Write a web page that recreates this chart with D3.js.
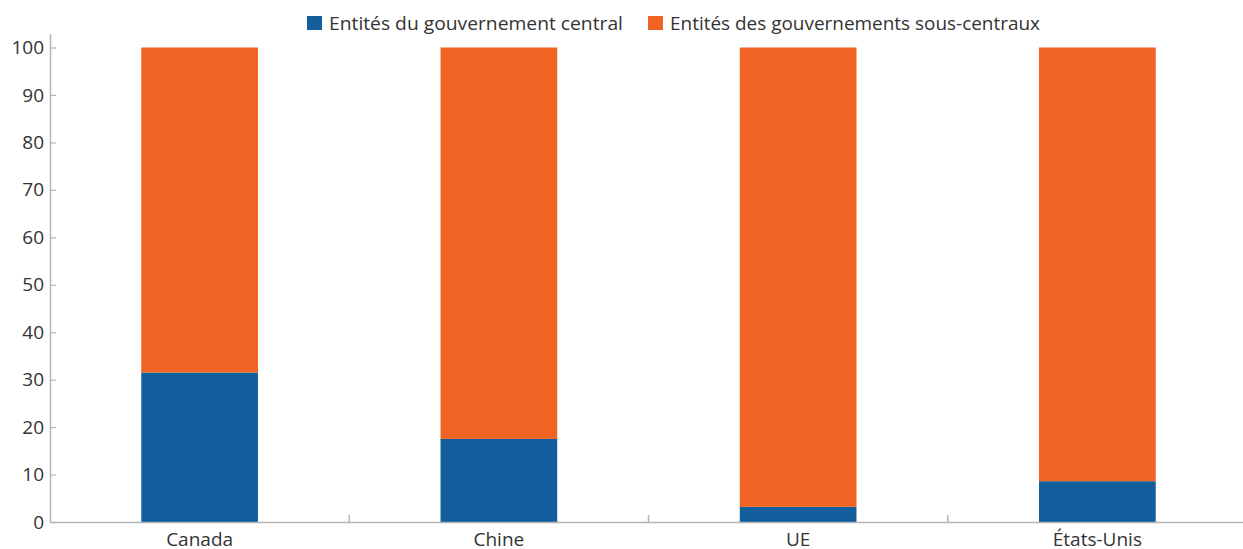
<!DOCTYPE html>
<html>
<head>
<meta charset="utf-8">
<script src="https://cdn.jsdelivr.net/npm/d3@7"></script>
<style>
  body { margin: 0; background: #fff; }
  text { font-family: "Open Sans", Lato, sans-serif; fill: #333; }
</style>
</head>
<body>
<div id="chart"></div>
<script>
// Data
const categories = ["Canada", "Chine", "UE", "États-Unis"];
const seriesNames = ["Entités du gouvernement central", "Entités des gouvernements sous-centraux"];
const central = [31.5, 17.5, 3.2, 8.6];
const subCentral = [68.5, 82.5, 96.8, 91.4];
const yTicks = [0, 10, 20, 30, 40, 50, 60, 70, 80, 90, 100];
const colors = ["#135f9d", "#f16322"];

const W = 1243, H = 549;
const MARGIN = { top: 47.5, left: 50, bottom: 27 };

const svg = d3.select("#chart").append("svg")
  .attr("width", W).attr("height", H);

const x = d3.scaleBand()
  .domain(categories)
  .range([MARGIN.left, 1247])
  .paddingInner(0.61)
  .paddingOuter(0.305);

const y = d3.scaleLinear()
  .domain([0, 100])
  .range([H - MARGIN.bottom, MARGIN.top]);

// Stack the two series
const rows = categories.map((c, i) => ({ cat: c, central: central[i], sub: subCentral[i] }));
const stack = d3.stack().keys(["central", "sub"])(rows);

svg.append("g").selectAll("g")
  .data(stack)
  .join("g")
  .attr("fill", (d, i) => colors[i])
  .selectAll("rect")
  .data(d => d)
  .join("rect")
  .attr("x", d => x(d.data.cat))
  .attr("width", x.bandwidth())
  .attr("y", d => y(d[1]))
  .attr("height", d => y(d[0]) - y(d[1]));

// Y axis (ticks point into the plot)
const yAxis = svg.append("g")
  .attr("transform", `translate(${MARGIN.left},0)`)
  .call(d3.axisLeft(y).tickValues(yTicks).tickSizeInner(-6).tickSizeOuter(0).tickPadding(6));
yAxis.select(".domain").remove();
yAxis.selectAll(".tick line").attr("stroke", "#b5b5b5").attr("stroke-width", 1.2);
yAxis.selectAll(".tick text").attr("font-size", 19).attr("fill", "#333");
yAxis.append("line")
  .attr("x1", 0.5).attr("x2", 0.5)
  .attr("y1", y(0)).attr("y2", 34)
  .attr("stroke", "#b5b5b5").attr("stroke-width", 1.5);

// X axis with category boundary ticks
const step = x.step();
const boundaries = d3.range(1, categories.length + 1).map(i => MARGIN.left + i * step);
const xg = svg.append("g");
xg.append("line")
  .attr("x1", MARGIN.left).attr("x2", W)
  .attr("y1", y(0) + 0.5).attr("y2", y(0) + 0.5)
  .attr("stroke", "#b5b5b5").attr("stroke-width", 1.5);
xg.selectAll("line.tk")
  .data(boundaries)
  .join("line")
  .attr("class", "tk")
  .attr("x1", d => d).attr("x2", d => d)
  .attr("y1", y(0)).attr("y2", y(0) - 7)
  .attr("stroke", "#b5b5b5").attr("stroke-width", 1.5);
xg.selectAll("text")
  .data(categories)
  .join("text")
  .attr("x", d => x(d) + x.bandwidth() / 2)
  .attr("y", y(0) + 24)
  .attr("text-anchor", "middle")
  .attr("font-size", 19)
  .text(d => d);

// Legend
const legendX = [307, 648];
const legendW = [294, 370];
const legend = svg.append("g");
seriesNames.forEach((name, i) => {
  const g = legend.append("g").attr("transform", `translate(${legendX[i]},16)`);
  g.append("rect").attr("width", 15).attr("height", 14).attr("fill", colors[i]);
  g.append("text")
    .attr("x", 22).attr("y", 13.5)
    .attr("font-size", 19)
    .attr("textLength", legendW[i])
    .attr("lengthAdjust", "spacingAndGlyphs")
    .text(name);
});
</script>
</body>
</html>
